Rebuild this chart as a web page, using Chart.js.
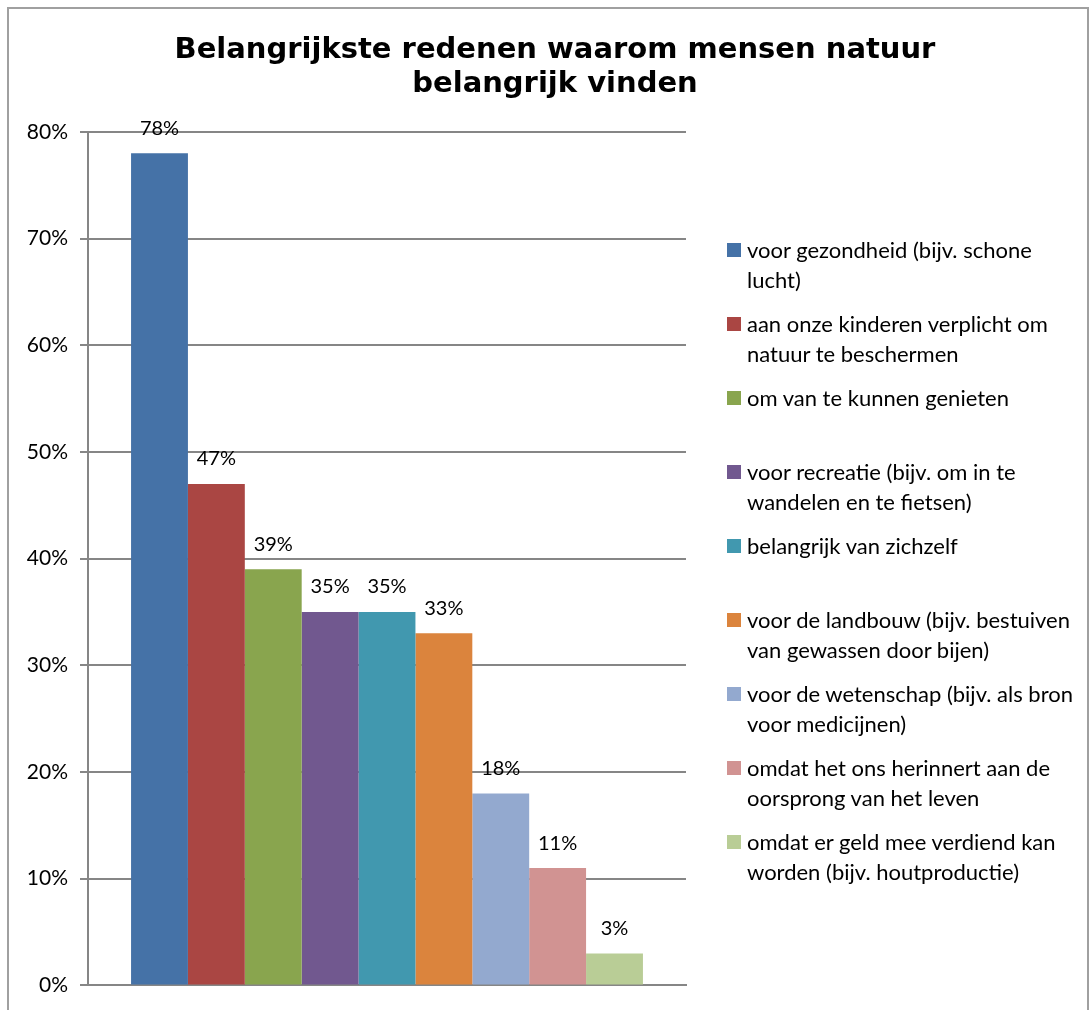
<!DOCTYPE html>
<html>
<head>
<meta charset="utf-8">
<script src="https://cdn.jsdelivr.net/npm/chart.js@4"></script>
<style>
    html, body { margin: 0; padding: 0; background: #fff; }
    #wrap { position: relative; width: 1092px; height: 1010px; overflow: hidden; }
    #frame { position: absolute; left: 7px; top: 7px; width: 1082px; height: 1020px;
             border: 2px solid #a0a0a0; box-sizing: border-box; }
    canvas { position: absolute; left: 0; top: 0; }
    #title { position: absolute; left: 0; top: 31px; width: 1110px; text-align: center;
             font-family: "DejaVu Sans", sans-serif; font-weight: bold; font-size: 29px;
             line-height: 34px; color: #000; }
    #legend { position: absolute; left: 727px; top: 235px; font-family: Lato, sans-serif;
              font-size: 22px; color: #000; }
    .item { position: relative; height: 74px; padding-left: 20px; line-height: 30px; white-space: nowrap; }
    .box { position: absolute; left: 0; top: 8px; width: 14px; height: 14px; }
</style>
</head>
<body>
<div id="wrap">
    <div id="frame"></div>
    <canvas id="c" width="1092" height="1010"></canvas>
    <div id="title"></div>
    <div id="legend"></div>
</div>
<script>
/* ====== DATA ====== */
var titleLines = ["Belangrijkste redenen waarom mensen natuur", "belangrijk vinden"];
var categories = [""];
var reasons = [
    ["voor gezondheid (bijv. schone", "lucht)"],
    ["aan onze kinderen verplicht om", "natuur te beschermen"],
    ["om van te kunnen genieten"],
    ["voor recreatie (bijv. om in te", "wandelen en te fietsen)"],
    ["belangrijk van zichzelf"],
    ["voor de landbouw (bijv. bestuiven", "van gewassen door bijen)"],
    ["voor de wetenschap (bijv. als bron", "voor medicijnen)"],
    ["omdat het ons herinnert aan de", "oorsprong van het leven"],
    ["omdat er geld mee verdiend kan", "worden (bijv. houtproductie)"]
];
var percentages = [78, 47, 39, 35, 35, 33, 18, 11, 3];
var colors = ["#4572A7", "#AA4643", "#89A54E", "#71588F", "#4198AF",
              "#DB843D", "#93A9CF", "#D19392", "#B9CD96"];

/* ====== DATA LABELS ====== */
var valueLabels = {
    id: "valueLabels",
    afterDatasetsDraw: function (chart) {
        var ctx = chart.ctx;
        ctx.save();
        ctx.font = "20px Lato, sans-serif";
        ctx.fillStyle = "#000";
        ctx.textAlign = "center";
        ctx.textBaseline = "middle";
        chart.data.datasets.forEach(function (ds, i) {
            var bar = chart.getDatasetMeta(i).data[0];
            ctx.fillText(ds.data[0] + "%", bar.x, bar.y - 25);
        });
        ctx.restore();
    }
};

/* ====== CHART ====== */
var datasets = reasons.map(function (r, i) {
    return {
        label: r.join(" "),
        data: [percentages[i]],
        backgroundColor: colors[i],
        borderWidth: 0,
        barPercentage: 1,
        categoryPercentage: 0.856
    };
});

new Chart(document.getElementById("c").getContext("2d"), {
    type: "bar",
    data: { labels: categories, datasets: datasets },
    options: {
        responsive: false,
        animation: false,
        layout: { padding: { left: 8, right: 406, top: 132, bottom: 22 } },
        plugins: {
            legend: { display: false },
            tooltip: { enabled: false },
            title: { display: false }
        },
        scales: {
            x: {
                ticks: { display: false },
                grid: { display: false },
                border: { display: true, color: "#868686", width: 2 },
                afterFit: function (s) { s.height = 0; }
            },
            y: {
                min: 0, max: 80,
                ticks: {
                    stepSize: 10,
                    color: "#000",
                    padding: 12,
                    font: { family: "Lato", size: 21 },
                    callback: function (v) { return v + "%"; }
                },
                grid: { color: "#868686", lineWidth: 2, tickLength: 8 },
                border: { color: "#868686", width: 2 },
                afterFit: function (s) { s.width = 80; }
            }
        }
    },
    plugins: [valueLabels]
});

/* ====== TITLE + LEGEND ====== */
document.getElementById("title").innerHTML = titleLines.join("<br>");

var legend = document.getElementById("legend");
reasons.forEach(function (r, i) {
    var div = document.createElement("div");
    div.className = "item";
    div.innerHTML = '<span class="box" style="background:' + colors[i] + '"></span>' + r.join("<br>");
    legend.appendChild(div);
});
</script>
</body>
</html>
